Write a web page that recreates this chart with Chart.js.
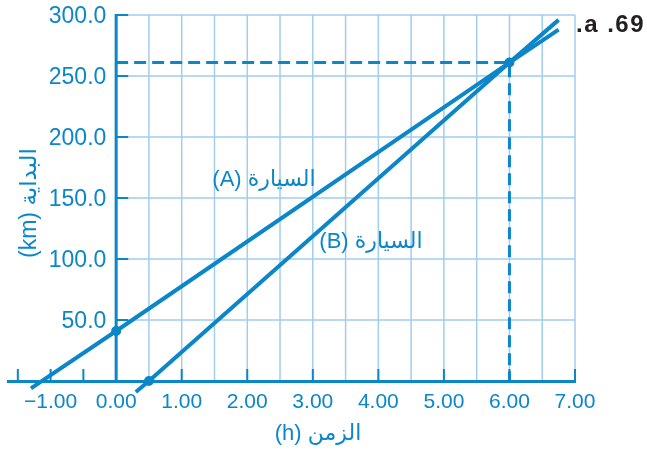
<!DOCTYPE html>
<html>
<head>
<meta charset="utf-8">
<script src="https://cdn.jsdelivr.net/npm/chart.js@4"></script>
<style>
  body { margin: 0; background: #fff; }
  canvas { display: block; }
</style>
</head>
<body>
<canvas id="chart" width="647" height="453"></canvas>
<script>
// ============================== DATA

const carA = [
  { x: -1.3, y: -6 },
  { x: 0, y: 41 },
  { x: 6, y: 261 },
  { x: 6.75, y: 288 },
];
const carB = [
  { x: 0.3, y: -9 },
  { x: 0.5, y: 0 },
  { x: 6, y: 261 },
  { x: 6.75, y: 296 },
];
const meetLine = [
  { x: 0, y: 261 },
  { x: 6, y: 261 },
  { x: 6, y: 0 },
];

const xTicks = [-1, 0, 1, 2, 3, 4, 5, 6, 7];
const yTicks = [50, 100, 150, 200, 250, 300];
const xGrid = [0.5, 1, 1.5, 2, 2.5, 3, 3.5, 4, 4.5, 5, 5.5, 6, 6.5, 7];
const yGrid = [50, 100, 150, 200, 250, 300];
const xMarks = [-1.5, -1, -0.5, 1, 2, 3, 4, 5, 6, 7];

const labelA = '(A) السيارة';
const labelB = '(B) السيارة';
const xTitle = '(h) الزمن';
const yTitle = '(km) البداية';
const problemNo = '.a .69';

// ============================== STYLE

const BLUE = '#0a86c9';
const GRID = '#a2cdee';
const FONT = '"Liberation Sans", "DejaVu Sans", sans-serif';

Chart.defaults.font.family = FONT;
Chart.defaults.color = BLUE;

// grid, y axis line, tick marks and texts
const paperPlugin = {
  id: 'paper',
  beforeDraw(chart) {
    const { ctx, scales: { x, y } } = chart;
    const x0 = x.getPixelForValue(0);
    const y0 = y.getPixelForValue(0);
    ctx.save();
    ctx.fillStyle = '#fff';
    ctx.fillRect(0, 0, chart.width, chart.height);

    ctx.strokeStyle = GRID;
    ctx.lineWidth = 1.5;
    ctx.beginPath();
    for (const v of xGrid) {
      const px = x.getPixelForValue(v);
      ctx.moveTo(px, y0);
      ctx.lineTo(px, y.getPixelForValue(300));
    }
    for (const v of yGrid) {
      const py = y.getPixelForValue(v);
      ctx.moveTo(x0, py);
      ctx.lineTo(x.getPixelForValue(7), py);
    }
    ctx.stroke();

    ctx.strokeStyle = BLUE;
    ctx.lineWidth = 2;
    ctx.beginPath();
    for (const v of xMarks) {
      const px = x.getPixelForValue(v);
      ctx.moveTo(px, y0);
      ctx.lineTo(px, y0 - 12);
    }
    for (const v of yTicks) {
      const py = y.getPixelForValue(v);
      ctx.moveTo(x0, py);
      ctx.lineTo(x0 + 12, py);
    }
    ctx.stroke();

    ctx.lineWidth = 3;
    ctx.beginPath();
    ctx.moveTo(x0, y.getPixelForValue(300) - 1);
    ctx.lineTo(x0, y0);
    ctx.stroke();
    ctx.restore();
  },
  afterDraw(chart) {
    const { ctx } = chart;
    ctx.save();
    ctx.fillStyle = BLUE;
    ctx.textAlign = 'center';
    ctx.textBaseline = 'middle';
    ctx.font = '22px ' + FONT;
    ctx.fillText(labelA, 264, 180);
    ctx.fillText(labelB, 371, 242);
    ctx.fillText(xTitle, 318, 434);

    ctx.save();
    ctx.font = '23px ' + FONT;
    ctx.translate(30, 203);
    ctx.rotate(-Math.PI / 2);
    ctx.fillText(yTitle, 0, 0);
    ctx.restore();

    ctx.fillStyle = '#231f20';
    ctx.font = 'bold 24px ' + FONT;
    ctx.letterSpacing = '1.5px';
    ctx.textAlign = 'left';
    ctx.fillText(problemNo, 576, 25);
    ctx.restore();
  }
};

// ============================== CHART

new Chart(document.getElementById('chart'), {
  type: 'scatter',
  data: {
    datasets: [
      {
        label: 'A',
        data: carA,
        showLine: true,
        borderColor: BLUE,
        backgroundColor: BLUE,
        borderWidth: 4,
        pointRadius: [0, 3, 0, 0],
        clip: false,
      },
      {
        label: 'B',
        data: carB,
        showLine: true,
        borderColor: BLUE,
        backgroundColor: BLUE,
        borderWidth: 4,
        pointRadius: [0, 3, 3, 0],
        clip: false,
      },
      {
        label: 'meet',
        data: meetLine,
        showLine: true,
        borderColor: BLUE,
        borderWidth: 3,
        borderDash: [12, 6],
        pointRadius: 0,
        clip: false,
      },
    ]
  },
  options: {
    responsive: false,
    animation: false,
    events: [],
    layout: {
      padding: { left: 8, right: 72, top: 15, bottom: 0 },
    },
    plugins: {
      legend: { display: false },
      tooltip: { enabled: false },
    },
    scales: {
      x: {
        type: 'linear',
        min: -1.65,
        max: 7,
        position: 'bottom',
        afterBuildTicks: (scale) => { scale.ticks = xTicks.map(v => ({ value: v })); },
        afterFit: (scale) => { scale.height = 72; },
        grid: { display: false, drawTicks: false },
        border: { color: BLUE, width: 3 },
        ticks: {
          color: BLUE,
          font: { size: 21 },
          padding: 9,
          maxRotation: 0,
          callback: (v) => v.toFixed(2).replace('-', '\u2212'),
        },
      },
      y: {
        type: 'linear',
        min: 0,
        max: 300,
        // labels sit just left of the x = 0 line, which is drawn by the plugin
        position: { x: -0.15 },
        afterBuildTicks: (scale) => { scale.ticks = yTicks.map(v => ({ value: v })); },
        grid: { display: false, drawTicks: false },
        border: { display: false },
        ticks: {
          color: BLUE,
          font: { size: 23 },
          padding: 0,
          labelOffset: 2,
          callback: (v) => v.toFixed(1),
        },
      },
    },
  },
  plugins: [paperPlugin],
});
</script>
</body>
</html>
